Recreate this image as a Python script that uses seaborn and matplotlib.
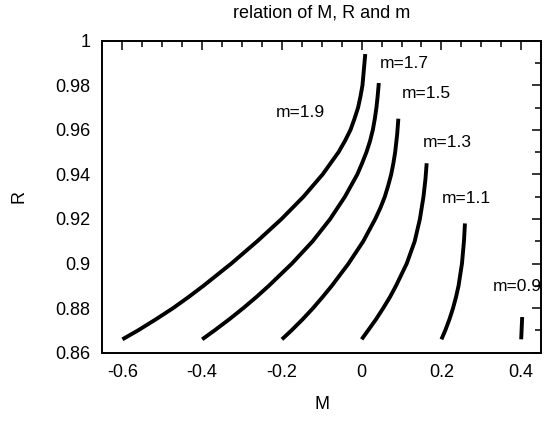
import matplotlib
matplotlib.use("Agg")
import matplotlib.pyplot as plt
from matplotlib.ticker import MultipleLocator, FuncFormatter
import seaborn as sns
import pandas as pd

# Curves of R against M for several values of m
m_values = ["1.9", "1.7", "1.5", "1.3", "1.1", "0.9"]

R_19 = [0.866, 0.870, 0.875, 0.880, 0.885, 0.890, 0.900, 0.910, 0.920,
        0.930, 0.940, 0.950, 0.955, 0.960, 0.965, 0.970, 0.975, 0.980,
        0.987, 0.994]
M_19 = [-0.600, -0.561, -0.516, -0.473, -0.434, -0.397, -0.327, -0.262, -0.201,
        -0.146, -0.098, -0.058, -0.042, -0.028, -0.018, -0.009, -0.003, 0.002,
        0.0055, 0.009]

R_17 = [0.866, 0.870, 0.875, 0.880, 0.885, 0.890, 0.900, 0.910, 0.920,
        0.930, 0.940, 0.945, 0.950, 0.955, 0.960, 0.965, 0.970, 0.975, 0.981]
M_17 = [-0.400, -0.369, -0.332, -0.297, -0.264, -0.233, -0.175, -0.123, -0.079,
        -0.042, -0.011, 0.001, 0.012, 0.021, 0.028, 0.033, 0.037, 0.040, 0.043]

R_15 = [0.866, 0.870, 0.875, 0.880, 0.885, 0.890, 0.900, 0.910, 0.920,
        0.925, 0.930, 0.935, 0.940, 0.945, 0.950, 0.958, 0.965]
M_15 = [-0.200, -0.176, -0.148, -0.122, -0.098, -0.075, -0.033, 0.004, 0.034,
        0.047, 0.058, 0.0665, 0.074, 0.0795, 0.084, 0.089, 0.092]

R_13 = [0.866, 0.870, 0.875, 0.880, 0.885, 0.890, 0.900, 0.910, 0.920,
        0.930, 0.938, 0.945]
M_13 = [0.000, 0.016, 0.036, 0.054, 0.071, 0.086, 0.113, 0.133, 0.146,
        0.155, 0.160, 0.163]

R_11 = [0.866, 0.870, 0.875, 0.880, 0.885, 0.890, 0.900, 0.910, 0.918]
M_11 = [0.200, 0.2096, 0.2201, 0.2291, 0.2366, 0.2429, 0.2515, 0.2565, 0.259]

R_09 = [0.866, 0.876]
M_09 = [0.400, 0.4025]

series = {
    "1.9": (M_19, R_19),
    "1.7": (M_17, R_17),
    "1.5": (M_15, R_15),
    "1.3": (M_13, R_13),
    "1.1": (M_11, R_11),
    "0.9": (M_09, R_09),
}

# Label anchor points (M, R) for each curve
label_pos = {
    "1.9": (-0.1535, 0.9676),
    "1.7": (0.1068, 0.9897),
    "1.5": (0.1617, 0.9762),
    "1.3": (0.2147, 0.9545),
    "1.1": (0.2624, 0.9291),
    "0.9": (0.330, 0.8895),
}

sns.set_theme(style="white")
plt.rcParams["font.family"] = ["Liberation Sans", "DejaVu Sans"]
plt.rcParams["axes.unicode_minus"] = False
for key in ("text.color", "axes.labelcolor", "xtick.color", "ytick.color",
            "axes.edgecolor"):
    plt.rcParams[key] = "black"

fig = plt.figure(figsize=(5.44, 4.22), dpi=100)
ax = fig.add_axes([0.1884, 0.1642, 0.8063, 0.9036 - 0.1642])

frames = []
for m in m_values:
    Ms, Rs = series[m]
    frames.append(pd.DataFrame({"M": Ms, "R": Rs, "m": m}))
df = pd.concat(frames, ignore_index=True)

sns.lineplot(data=df, x="M", y="R", hue="m", units="m", estimator=None,
             sort=False, palette=["black"] * len(m_values), linewidth=2.8,
             legend=False, ax=ax, solid_capstyle="butt", solid_joinstyle="round")

for m in m_values:
    x, y = label_pos[m]
    ha = "left" if m == "0.9" else "center"
    ax.text(x, y, f"m={m}", ha=ha, va="center", fontsize=12.5,
            color="black", clip_on=True)

ax.set_xlim(-0.65, 0.45)
ax.set_ylim(0.86, 1.0)
ax.xaxis.set_major_locator(MultipleLocator(0.2))
ax.xaxis.set_minor_locator(MultipleLocator(0.05))
ax.yaxis.set_major_locator(MultipleLocator(0.02))
ax.yaxis.set_minor_locator(MultipleLocator(0.01))
fmt = FuncFormatter(lambda v, p: f"{v:.10g}" if abs(v) > 1e-9 else "0")
ax.xaxis.set_major_formatter(fmt)
ax.yaxis.set_major_formatter(fmt)

ax.tick_params(which="both", direction="in", top=True, right=True,
               color="black", labelcolor="black", width=1.1)
ax.tick_params(which="major", length=6.5, labelsize=13)
ax.tick_params(which="minor", length=4)
ax.tick_params(axis="x", which="major", pad=8)
ax.tick_params(axis="y", which="major", pad=8.5)

for s in ax.spines.values():
    s.set_color("black")
    s.set_linewidth(1.4)

ax.set_xlabel("M", fontsize=13, labelpad=11, color="black")
ax.set_ylabel("R", fontsize=13, labelpad=20, color="black")
ax.set_title("relation of M, R and m", fontsize=13, pad=17, color="black")

fig.savefig("out.png", dpi=100)
